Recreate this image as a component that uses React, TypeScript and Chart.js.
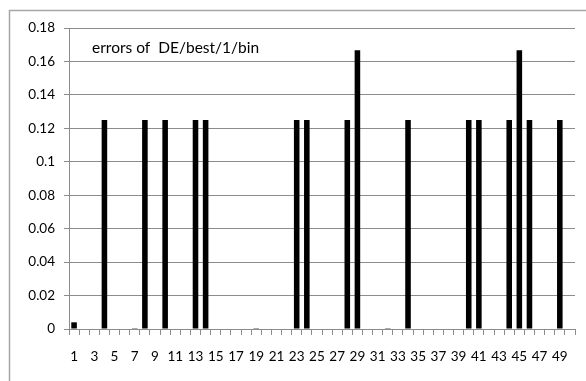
import React, { useEffect, useRef } from "react";
import { Chart, registerables } from "chart.js";

Chart.register(...registerables);

const categories: string[] = Array.from({ length: 50 }, (_, i) => String(i + 1));
const errorValues: number[] = [
  0.004, 0, 0, 0.125, 0, 0, 0.0005, 0.125, 0, 0.125,
  0, 0, 0.125, 0.125, 0, 0, 0, 0, 0.0005, 0,
  0, 0, 0.125, 0.125, 0, 0, 0, 0.125, 0.1667, 0,
  0, 0.0005, 0, 0.125, 0, 0, 0, 0, 0, 0.125,
  0.125, 0, 0, 0.125, 0.1667, 0.125, 0, 0, 0.125, 0,
];
const yTicks: number[] = [0, 0.02, 0.04, 0.06, 0.08, 0.1, 0.12, 0.14, 0.16, 0.18];
const chartLabel = "errors of  DE/best/1/bin";

const FONT = "Lato, 'Liberation Sans', sans-serif";

const decorPlugin = {
  id: "decor",
  beforeDraw(chart: any) {
    const ctx = chart.ctx;
    ctx.save();
    ctx.fillStyle = "#ffffff";
    ctx.fillRect(0, 0, chart.width, chart.height);
    ctx.strokeStyle = "#a6a6a6";
    ctx.lineWidth = 1.5;
    ctx.strokeRect(9.5, 10.5, 700, 500);
    ctx.restore();
  },
  afterDraw(chart: any) {
    const ctx = chart.ctx;
    ctx.save();
    ctx.fillStyle = "#000000";
    ctx.font = `15.5px ${FONT}`;
    ctx.textBaseline = "middle";
    ctx.textAlign = "left";
    ctx.fillText(chartLabel, 92, 48);
    ctx.restore();
  },
};

export default function App() {
  const ref = useRef<HTMLCanvasElement | null>(null);
  useEffect(() => {
    if (!ref.current) return;
    const chart = new Chart(ref.current, {
      type: "bar",
      data: {
        labels: categories,
        datasets: [
          {
            data: errorValues,
            backgroundColor: "#000000",
            borderWidth: 0,
            barPercentage: 0.55,
            categoryPercentage: 1,
          },
        ],
      },
      options: {
        animation: false,
        responsive: false,
        maintainAspectRatio: false,
        layout: { padding: { left: 0, top: 28, right: 11, bottom: 0 } },
        plugins: { legend: { display: false }, tooltip: { enabled: false }, title: { display: false } },
        scales: {
          x: {
            grid: { display: true, drawOnChartArea: false, drawTicks: true, tickLength: 6, color: "#8c8c8c", offset: true },
            border: { display: true, color: "#8c8c8c" },
            ticks: {
              autoSkip: false,
              maxRotation: 0,
              minRotation: 0,
              padding: 14,
              color: "#000000",
              font: { family: FONT, size: 13.5 },
              callback: (_v: any, i: number) => (i % 2 === 0 ? categories[i] : ""),
            },
            afterFit: (s: any) => {
              s.height = 381 - 329;
            },
          },
          y: {
            min: 0,
            max: 0.18,
            afterBuildTicks: (s: any) => {
              s.ticks = yTicks.map((v) => ({ value: v }));
            },
            grid: { color: "#8c8c8c", tickLength: 5, drawTicks: true },
            border: { display: true, color: "#8c8c8c" },
            ticks: {
              padding: 9,
              color: "#000000",
              font: { family: FONT, size: 13.5 },
              callback: (v: any) => String(Math.round(Number(v) * 100) / 100),
            },
            afterFit: (s: any) => {
              s.width = 69;
            },
          },
        },
      },
      plugins: [decorPlugin],
    });
    return () => chart.destroy();
  }, []);
  return (
    <div style={{ position: "fixed", left: 0, top: 0, width: 586, height: 381, background: "#fff" }}>
      <canvas ref={ref} width={586} height={381} style={{ display: "block", width: 586, height: 381 }} />
    </div>
  );
}
